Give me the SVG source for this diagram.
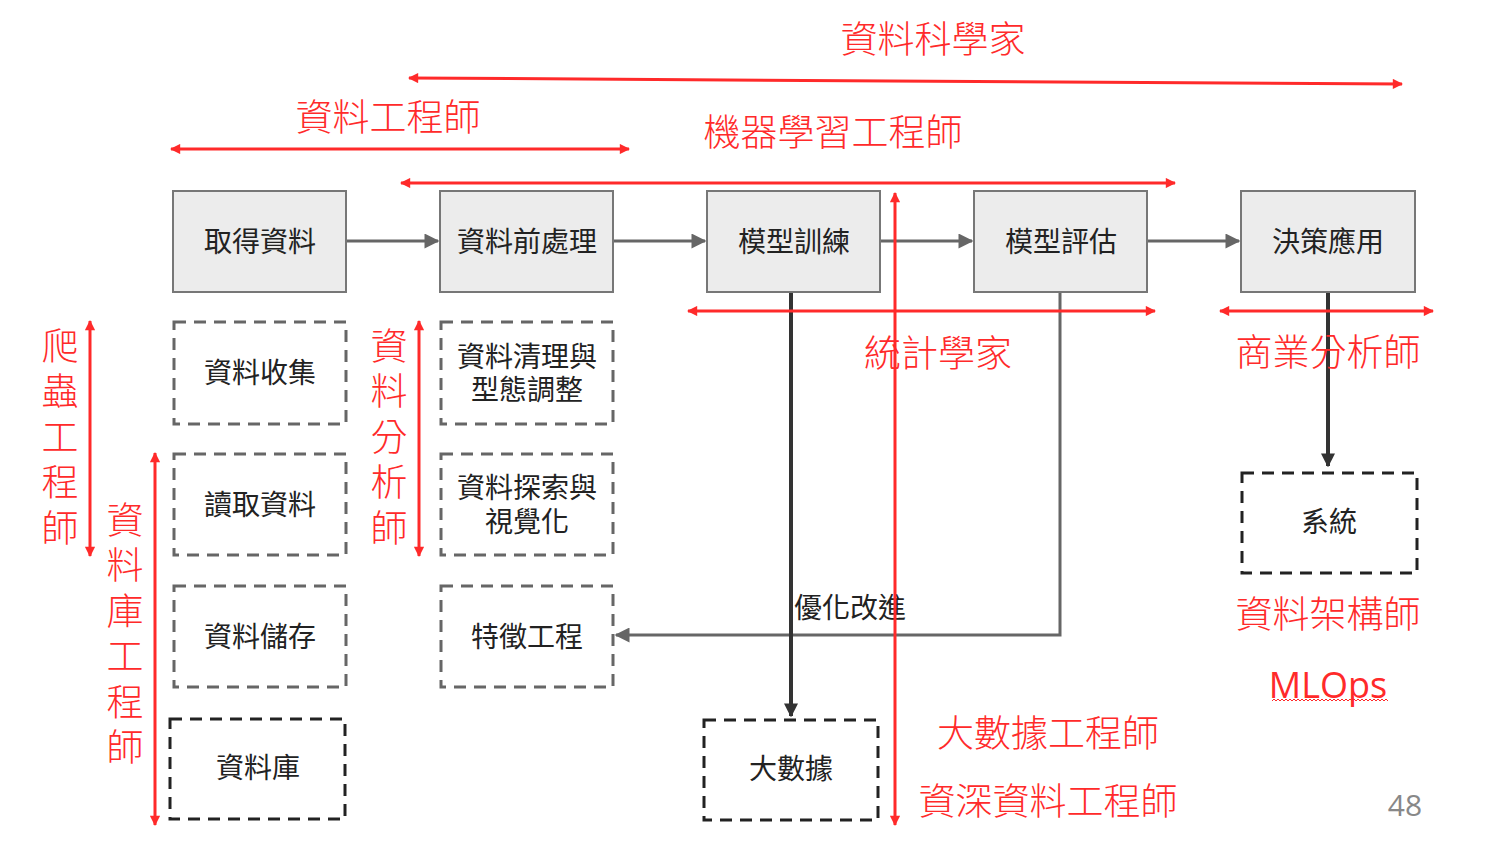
<svg xmlns="http://www.w3.org/2000/svg" width="1486" height="848" viewBox="0 0 1486 848">
<defs>
<style>
.box{fill:#ececec;stroke:#777;stroke-width:2}
.dg{fill:none;stroke:#666;stroke-width:3;stroke-dasharray:12 8}
.db{fill:none;stroke:#222;stroke-width:3;stroke-dasharray:12 8}
.t{font-family:"Noto Sans CJK TC","Noto Sans CJK SC",sans-serif;font-size:28px;fill:#222;text-anchor:middle;dominant-baseline:central}
.r{font-family:"Noto Sans CJK TC","Noto Sans CJK SC",sans-serif;font-weight:300;font-size:37px;fill:#ff2a2a;text-anchor:middle;dominant-baseline:central}
.v{font-family:"Noto Sans CJK TC","Noto Sans CJK SC",sans-serif;font-weight:300;font-size:37px;fill:#ff2a2a;writing-mode:vertical-rl;letter-spacing:8.5px;dominant-baseline:central}
.rl{stroke:#ff2a2a;stroke-width:3;fill:none}
.ga{stroke:#666;stroke-width:3;fill:none}
.ka{stroke:#333;stroke-width:4;fill:none}
</style>
<marker id="rh" viewBox="0 0 10 10" refX="9" refY="5" markerWidth="4" markerHeight="3.4" orient="auto-start-reverse" markerUnits="strokeWidth"><path d="M0,0 L10,5 L0,10 z" fill="#ff2a2a"/></marker>
<marker id="gh" viewBox="0 0 10 10" refX="9" refY="5" markerWidth="6" markerHeight="5" orient="auto" markerUnits="strokeWidth"><path d="M0,0 L10,5 L0,10 z" fill="#666"/></marker>
<marker id="kh" viewBox="0 0 10 10" refX="9" refY="5" markerWidth="3.5" markerHeight="3.5" orient="auto" markerUnits="strokeWidth"><path d="M0,0 L10,5 L0,10 z" fill="#333"/></marker>
</defs>
<rect width="1486" height="848" fill="#fff"/>

<g id="connectors">
<line class="ga" x1="347" y1="241" x2="438" y2="241" marker-end="url(#gh)"/>
<line class="ga" x1="614" y1="241" x2="705" y2="241" marker-end="url(#gh)"/>
<line class="ga" x1="881" y1="241" x2="972" y2="241" marker-end="url(#gh)"/>
<line class="ga" x1="1148" y1="241" x2="1239" y2="241" marker-end="url(#gh)"/>
<polyline class="ga" points="1060,292 1060,635 616,635" marker-end="url(#gh)"/>
<line class="ka" x1="791" y1="290" x2="791" y2="716" marker-end="url(#kh)"/>
<line class="ka" x1="1328" y1="290" x2="1328" y2="466" marker-end="url(#kh)"/>
</g>

<g id="nodes">
<g id="n-get"><rect class="box" x="173" y="191" width="173" height="101"/><text class="t" x="260" y="240">取得資料</text></g>
<g id="n-pre"><rect class="box" x="440" y="191" width="173" height="101"/><text class="t" x="527" y="240">資料前處理</text></g>
<g id="n-train"><rect class="box" x="707" y="191" width="173" height="101"/><text class="t" x="794" y="240">模型訓練</text></g>
<g id="n-eval"><rect class="box" x="974" y="191" width="173" height="101"/><text class="t" x="1061" y="240">模型評估</text></g>
<g id="n-dec"><rect class="box" x="1241" y="191" width="174" height="101"/><text class="t" x="1328" y="240">決策應用</text></g>

<g id="n-collect"><rect class="dg" x="174" y="322" width="172" height="102"/><text class="t" x="260" y="371">資料收集</text></g>
<g id="n-read"><rect class="dg" x="174" y="454" width="172" height="101"/><text class="t" x="260" y="503">讀取資料</text></g>
<g id="n-store"><rect class="dg" x="174" y="586" width="172" height="101"/><text class="t" x="260" y="635">資料儲存</text></g>
<g id="n-clean"><rect class="dg" x="441" y="322" width="172" height="102"/><text class="t"><tspan x="527" y="355">資料清理與</tspan><tspan x="527" y="388">型態調整</tspan></text></g>
<g id="n-explore"><rect class="dg" x="441" y="454" width="172" height="101"/><text class="t"><tspan x="527" y="486">資料探索與</tspan><tspan x="527" y="520">視覺化</tspan></text></g>
<g id="n-feat"><rect class="dg" x="441" y="586" width="172" height="101"/><text class="t" x="527" y="635">特徵工程</text></g>

<g id="n-db"><rect class="db" x="170" y="719" width="175" height="100"/><text class="t" x="258" y="766">資料庫</text></g>
<g id="n-bigdata"><rect class="db" x="704" y="720" width="174" height="100"/><text class="t" x="791" y="767">大數據</text></g>
<g id="n-sys"><rect class="db" x="1242" y="473" width="175" height="100"/><text class="t" x="1329" y="520">系統</text></g>
</g>

<text class="t" x="850" y="606">優化改進</text>

<g id="roles">
<line class="rl" x1="409" y1="78" x2="1402" y2="84" marker-start="url(#rh)" marker-end="url(#rh)"/>
<line class="rl" x1="171" y1="149" x2="629" y2="149" marker-start="url(#rh)" marker-end="url(#rh)"/>
<line class="rl" x1="401" y1="183" x2="1175" y2="183" marker-start="url(#rh)" marker-end="url(#rh)"/>
<line class="rl" x1="688" y1="311" x2="1155" y2="311" marker-start="url(#rh)" marker-end="url(#rh)"/>
<line class="rl" x1="1220" y1="311" x2="1433" y2="311" marker-start="url(#rh)" marker-end="url(#rh)"/>
<line class="rl" x1="895" y1="193" x2="895" y2="825" marker-start="url(#rh)" marker-end="url(#rh)"/>
<line class="rl" x1="90" y1="321" x2="90" y2="556" marker-start="url(#rh)" marker-end="url(#rh)"/>
<line class="rl" x1="419" y1="321" x2="419" y2="556" marker-start="url(#rh)" marker-end="url(#rh)"/>
<line class="rl" x1="155" y1="453" x2="155" y2="825" marker-start="url(#rh)" marker-end="url(#rh)"/>

<text class="r" x="933" y="37">資料科學家</text>
<text class="r" x="388" y="115">資料工程師</text>
<text class="r" x="833" y="130">機器學習工程師</text>
<text class="r" x="938" y="351">統計學家</text>
<text class="r" x="1328" y="350">商業分析師</text>
<text class="r" x="1328" y="612">資料架構師</text>
<text class="r" x="1328" y="684" style="font-family:'Open Sans','Liberation Sans',sans-serif;font-weight:400;font-size:36px">MLOps</text>
<path d="M1272,701 l2,-2 l2,2 l2,-2 l2,2 l2,-2 l2,2 l2,-2 l2,2 l2,-2 l2,2 l2,-2 l2,2 l2,-2 l2,2 l2,-2 l2,2 l2,-2 l2,2 l2,-2 l2,2 l2,-2 l2,2 l2,-2 l2,2 l2,-2 l2,2 l2,-2 l2,2 l2,-2 l2,2 l2,-2 l2,2 l2,-2 l2,2 l2,-2 l2,2 l2,-2 l2,2 l2,-2 l2,2 l2,-2 l2,2 l2,-2 l2,2 l2,-2 l2,2 l2,-2 l2,2 l2,-2 l2,2 l2,-2 l2,2 l2,-2 l2,2 l2,-2 l2,2 l2,-2 l2,2" fill="none" stroke="#ff2a2a" stroke-width="1"/>
<text class="r" x="1048" y="731">大數據工程師</text>
<text class="r" x="1048" y="799">資深資料工程師</text>

<text class="v" x="60" y="327">爬蟲工程師</text>
<text class="v" x="389" y="327">資料分析師</text>
<text class="v" x="125" y="501">資料庫工程師</text>
</g>

<text x="1405" y="804" style="font-family:'Open Sans','Liberation Sans',sans-serif;font-size:30px;fill:#888;text-anchor:middle;dominant-baseline:central">48</text>
</svg>
